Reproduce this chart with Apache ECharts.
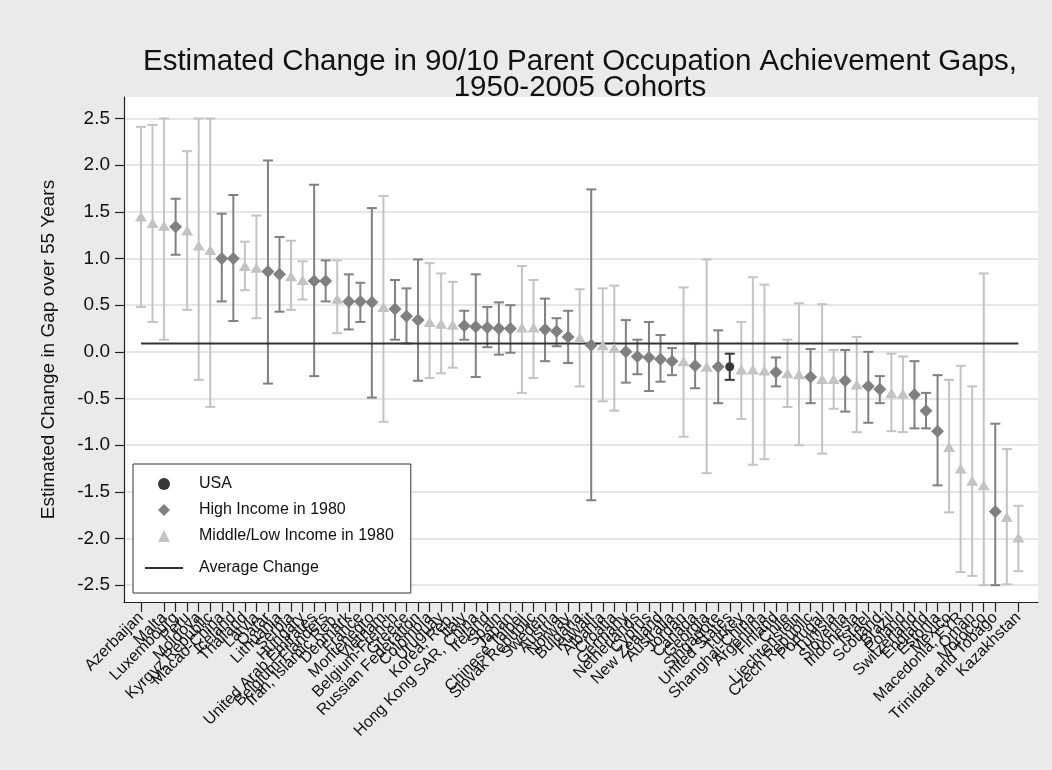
<!DOCTYPE html>
<html>
<head>
<meta charset="utf-8">
<script src="https://cdn.jsdelivr.net/npm/echarts@6/dist/echarts.min.js"></script>
<style>
  html, body { margin: 0; padding: 0; background: #eaeaea; }
  #chart { width: 1052px; height: 770px; }
</style>
</head>
<body>
<div id="chart"></div>
<script>
// Countries, sorted by estimated change in the 90/10 gap
const countries = [
  'Azerbaijan', 'Romania', 'Malta', 'Luxembourg', 'Peru', 'Moldova', 'Kyrgyz Republic',
  'Macao-China', 'Iceland', 'Thailand', 'Latvia', 'Qatar', 'Lithuania', 'Serbia', 'Hungary',
  'United Arab Emirates', 'Belgium-Flanders', 'Iran, Islamic Rep.', 'Denmark', 'France',
  'Montenegro', 'Vietnam', 'Belgium-French', 'Greece', 'Russian Federation', 'Colombia',
  'Uruguay', 'Korea, Rep.', 'Italy', 'Hong Kong SAR, China', 'Ireland', 'Spain', 'Japan',
  'Chinese Taipei', 'Slovak Republic', 'Sweden', 'Austria', 'Norway', 'Bulgaria', 'Kuwait',
  'Albania', 'Croatia', 'Germany', 'Netherlands', 'Cyprus', 'New Zealand', 'Australia',
  'Jordan', 'Canada', 'Georgia', 'Singapore', 'United States', 'Turkey', 'Shanghai-China',
  'Argentina', 'Finland', 'Chile', 'Liechtenstein', 'Czech Republic', 'Portugal', 'Tunisia',
  'Slovenia', 'Indonesia', 'Israel', 'Scotland', 'Brazil', 'Poland', 'Switzerland', 'England',
  'Estonia', 'Mexico', 'Macedonia, FYR', 'Oman', 'Morocco', 'Trinidad and Tobago',
  'Costa Rica', 'Kazakhstan'
];

// U = USA, H = high income in 1980, M = middle/low income in 1980
const incomeGroup = [
  'M','M','M','H','M','M','M','H','H','M','M','H','H','M','M','H','H','M','H','H',
  'H','M','H','H','H','M','M','M','H','H','H','H','H','M','M','H','H','H','M','H',
  'M','M','H','H','H','H','H','M','H','M','H','U','M','M','M','H','M','M','H','M',
  'M','H','M','H','H','M','M','H','H','H','M','M','M','M','H','M','M'
];

// Estimated change in gap over 55 years
const gapChange = [
  1.45, 1.38, 1.35, 1.34, 1.30, 1.14, 1.09, 1.00, 1.00, 0.92, 0.90, 0.86, 0.83, 0.81, 0.77,
  0.76, 0.76, 0.57, 0.54, 0.54, 0.53, 0.48, 0.46, 0.38, 0.34, 0.32, 0.30, 0.29, 0.28, 0.27,
  0.26, 0.25, 0.25, 0.26, 0.26, 0.24, 0.22, 0.16, 0.15, 0.07, 0.07, 0.04, 0.00, -0.05, -0.06,
  -0.08, -0.10, -0.10, -0.15, -0.16, -0.16, -0.16, -0.19, -0.19, -0.20, -0.22, -0.23, -0.24,
  -0.27, -0.29, -0.29, -0.31, -0.35, -0.37, -0.40, -0.44, -0.45, -0.46, -0.63, -0.85, -1.02,
  -1.25, -1.38, -1.43, -1.71, -1.77, -1.99
];

// 95% confidence interval bounds
const ciLower = [
  0.48, 0.32, 0.13, 1.04, 0.45, -0.30, -0.59, 0.54, 0.33, 0.66, 0.36, -0.34, 0.43, 0.45, 0.56,
  -0.26, 0.54, 0.20, 0.24, 0.32, -0.49, -0.75, 0.13, 0.09, -0.31, -0.28, -0.23, -0.17, 0.13,
  -0.27, 0.05, -0.03, -0.01, -0.44, -0.28, -0.10, 0.06, -0.12, -0.37, -1.59, -0.53, -0.63,
  -0.33, -0.24, -0.42, -0.32, -0.25, -0.91, -0.39, -1.30, -0.55, -0.30, -0.72, -1.21, -1.15,
  -0.37, -0.59, -1.00, -0.55, -1.09, -0.61, -0.64, -0.86, -0.76, -0.55, -0.85, -0.86, -0.82,
  -0.82, -1.43, -1.72, -2.36, -2.40, -2.50, -2.50, -2.49, -2.35
];
const ciUpper = [
  2.41, 2.43, 2.50, 1.64, 2.15, 2.50, 2.50, 1.48, 1.68, 1.18, 1.46, 2.05, 1.23, 1.19, 0.97,
  1.79, 0.98, 0.98, 0.83, 0.74, 1.54, 1.67, 0.77, 0.68, 0.99, 0.95, 0.84, 0.75, 0.44, 0.83,
  0.48, 0.53, 0.50, 0.92, 0.77, 0.57, 0.36, 0.44, 0.67, 1.74, 0.68, 0.71, 0.34, 0.13, 0.32,
  0.18, 0.04, 0.69, 0.09, 0.99, 0.23, -0.02, 0.32, 0.80, 0.72, -0.06, 0.13, 0.52, 0.03, 0.51,
  0.02, 0.02, 0.16, 0.00, -0.26, -0.02, -0.05, -0.10, -0.44, -0.25, -0.30, -0.15, -0.37, 0.84,
  -0.77, -1.04, -1.65
];

const averageChange = 0.09;
const yTickValues = [-2.5, -2.0, -1.5, -1.0, -0.5, 0.0, 0.5, 1.0, 1.5, 2.0, 2.5];

const groupNames = { U: 'USA', H: 'High Income in 1980', M: 'Middle/Low Income in 1980' };
const groupColors = { U: '#383838', H: '#808080', M: '#c3c3c3' };
const groupSymbols = { U: 'circle', H: 'diamond', M: 'triangle' };
const groupSizes = { U: [9, 9], H: [13, 13], M: [12, 10] };
const groupOrder = ['M', 'H', 'U'];

const indices = countries.map((_, i) => i);

const barData = indices.map(i => [i, ciLower[i], ciUpper[i], groupOrder.indexOf(incomeGroup[i])]);

// Capped vertical bars for the confidence intervals
const errorBars = {
  type: 'custom',
  name: 'ci',
  z: 1,
  silent: true,
  data: barData,
  renderItem(params, api) {
    const x = api.value(0);
    const lo = api.coord([x, api.value(1)]);
    const hi = api.coord([x, api.value(2)]);
    const color = groupColors[groupOrder[api.value(3)]];
    const hw = 5;
    const style = { stroke: color, lineWidth: 2, fill: null };
    return {
      type: 'group',
      children: [
        { type: 'line', shape: { x1: lo[0], y1: lo[1], x2: hi[0], y2: hi[1] }, style },
        { type: 'line', shape: { x1: lo[0] - hw, y1: lo[1], x2: lo[0] + hw, y2: lo[1] }, style },
        { type: 'line', shape: { x1: hi[0] - hw, y1: hi[1], x2: hi[0] + hw, y2: hi[1] }, style }
      ]
    };
  }
};

const pointSeries = ['U', 'H', 'M'].map(g => ({
  type: 'scatter',
  name: groupNames[g],
  z: 4,
  symbol: groupSymbols[g],
  symbolSize: groupSizes[g],
  itemStyle: { color: groupColors[g], opacity: 1 },
  data: indices.filter(i => incomeGroup[i] === g).map(i => [i, gapChange[i]])
}));

const averageSeries = {
  type: 'line',
  name: 'Average Change',
  z: 3,
  symbol: 'none',
  silent: true,
  lineStyle: { color: '#333333', width: 2 },
  itemStyle: { color: '#333333' },
  data: [[0, averageChange], [countries.length - 1, averageChange]]
};

const chart = echarts.init(document.getElementById('chart'), null, { renderer: 'canvas' });

const fontFamily = 'Liberation Sans, Arial, Helvetica, sans-serif';
const legendText = { fontSize: 16, lineHeight: 16, color: '#111', fontFamily };

chart.setOption({
  backgroundColor: '#eaeaea',
  animation: false,
  textStyle: { fontFamily },
  title: {
    text: 'Estimated Change in 90/10 Parent Occupation Achievement Gaps,\n1950-2005 Cohorts',
    left: 575,
    top: 44,
    textAlign: 'center',
    textStyle: { fontSize: 29.5, fontWeight: 'normal', color: '#111', lineHeight: 26, fontFamily }
  },
  grid: {
    left: 124, right: 14, top: 97, bottom: 168,
    show: true, backgroundColor: '#ffffff', borderWidth: 0
  },
  legend: [
    {
      orient: 'vertical',
      left: 133, top: 464,
      padding: [12, 17, 49, 25],
      itemWidth: 12, itemHeight: 12, itemGap: 10,
      backgroundColor: '#ffffff',
      borderColor: '#333333', borderWidth: 1, borderRadius: 0,
      textStyle: Object.assign({ padding: [0, 0, 0, 24] }, legendText),
      selectedMode: false,
      data: [
        { name: 'USA', icon: 'circle' },
        { name: 'High Income in 1980', icon: 'diamond' },
        { name: 'Middle/Low Income in 1980', icon: 'triangle' }
      ]
    },
    {
      orient: 'vertical',
      left: 145, top: 560,
      padding: 0,
      itemWidth: 38, itemHeight: 16,
      textStyle: Object.assign({ padding: [0, 0, 0, 11] }, legendText),
      selectedMode: false,
      z: 10,
      data: [{ name: 'Average Change', icon: 'path://M0,0 H38 V2 H0 Z' }]
    }
  ],
  xAxis: {
    type: 'value',
    min: -1.47,
    max: 77.7,
    axisLine: { show: true, onZero: false, lineStyle: { color: '#222', width: 1.2 } },
    axisTick: { show: true, length: 10, customValues: indices, lineStyle: { color: '#222', width: 1.2 } },
    axisLabel: {
      customValues: indices,
      formatter: v => countries[Math.round(v)] || '',
      rotate: 45,
      fontSize: 16,
      color: '#111',
      margin: 13,
      showMinLabel: true,
      showMaxLabel: true,
      hideOverlap: false,
      fontFamily
    },
    splitLine: { show: false }
  },
  yAxis: {
    type: 'value',
    min: -2.68,
    max: 2.73,
    name: 'Estimated Change in Gap over 55 Years',
    nameLocation: 'middle',
    nameGap: 66,
    nameTextStyle: { fontSize: 19, color: '#111', fontFamily },
    axisLine: { show: true, onZero: false, lineStyle: { color: '#222', width: 1.2 } },
    axisTick: { show: true, length: 9, customValues: yTickValues, lineStyle: { color: '#222', width: 1.2 } },
    axisLabel: {
      customValues: yTickValues,
      formatter: v => v.toFixed(1),
      fontSize: 19,
      color: '#111',
      margin: 14,
      showMinLabel: true,
      showMaxLabel: true,
      fontFamily
    },
    splitLine: { show: true, lineStyle: { color: '#e6e6e6', width: 2 } }
  },
  series: [errorBars, averageSeries, ...pointSeries]
});
</script>
</body>
</html>
